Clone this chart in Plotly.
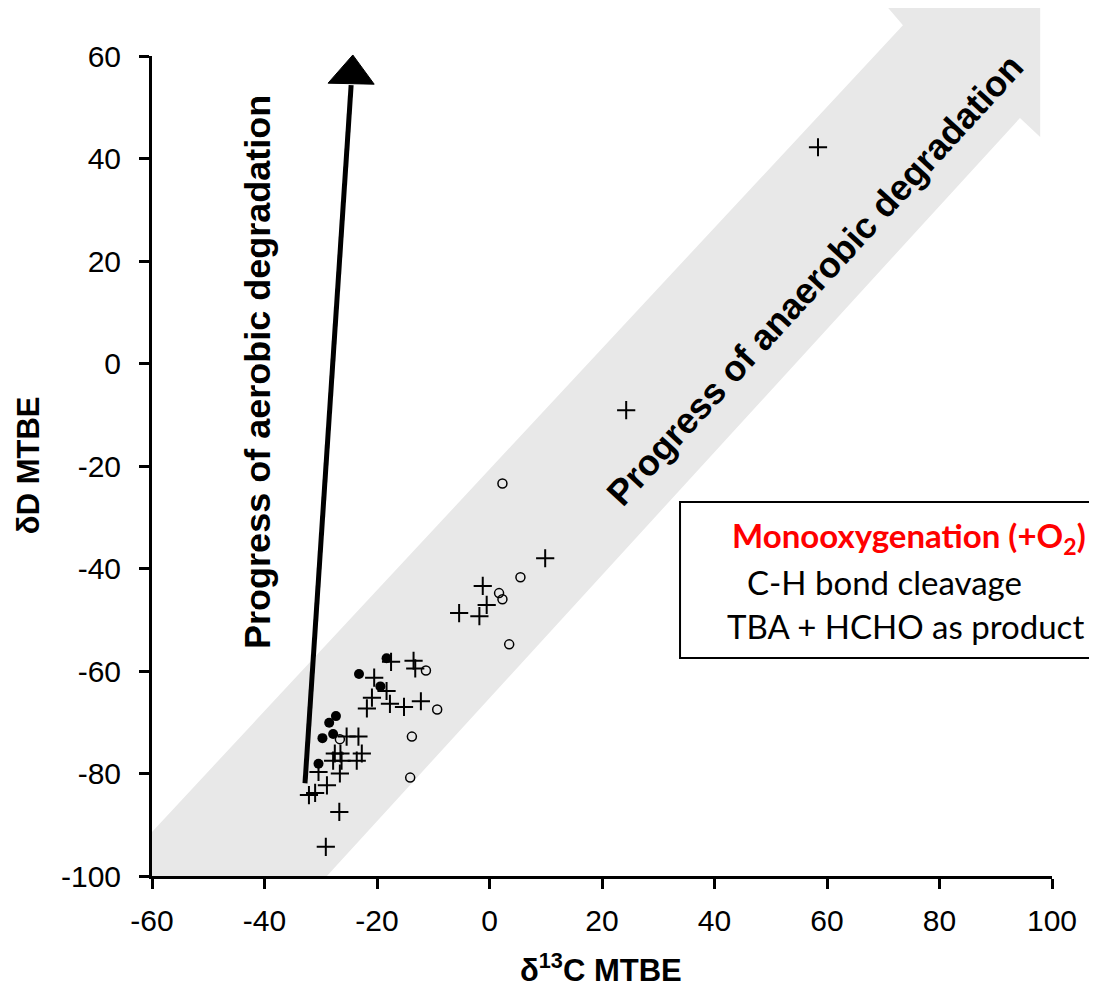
import plotly.graph_objects as go

# ---- data ----
filled_x = [-18.3, -23.2, -19.4, -27.3, -28.5, -29.7, -27.8, -30.4]
filled_y = [-57.5, -60.6, -63.0, -68.8, -70.1, -73.1, -72.3, -78.1]

open_x = [2.3, 5.5, 1.7, 2.3, 3.5, -11.3, -9.3, -13.8, -14.1, -26.6]
open_y = [-23.4, -41.7, -44.8, -46.0, -54.8, -59.9, -67.5, -72.8, -80.8, -73.3]

plus_x = [58.4, 24.3, 9.9, -1.2, -0.5, -5.4, -1.8, -17.5, -13.5, -13.2,
          -20.5, -18.3, -20.9, -21.8, -17.7, -15.2, -12.2, -25.4, -23.3, -27.5,
          -26.5, -27.8, -26.3, -22.7, -23.6, -30.4, -26.6, -28.9, -32.1, -31.0,
          -26.7, -29.1]
plus_y = [42.2, -9.1, -38.0, -43.4, -47.1, -48.7, -49.3, -58.2, -58.0, -59.5,
          -61.3, -63.9, -65.2, -67.3, -66.4, -67.0, -65.9, -72.8, -72.8, -76.1,
          -76.1, -77.5, -77.5, -76.1, -77.5, -79.7, -80.0, -82.3, -84.2, -83.8,
          -87.5, -94.3]

x_ticks = [-60, -40, -20, 0, 20, 40, 60, 80, 100]
x_tick_labels = ["-60", "-40", "-20", "0", "20", "40", "60", "80", "100"]
y_ticks = [-100, -80, -60, -40, -20, 0, 20, 40, 60]
y_tick_labels = ["-100", "-80", "-60", "-40", "-20", "0", "20", "40", "60"]

# anaerobic band outline (data coordinates) and aerobic arrow
band_x = [-60, 73.5, 70.7, 97.9, 97.9, 94.3, -28.9, -60]
band_y = [-91.4, 66.0, 69.6, 69.6, 44.2, 47.9, -100, -100]
aero_line = [(-32.8, -81.9), (-24.6, 54.3)]
aero_head = [(-24.3, 60.2), (-28.7, 54.7), (-20.5, 54.5)]

XR = [-60, 100]
YR = [-100, 60]


def to_paper(x, y):
    return ((x - XR[0]) / (XR[1] - XR[0]), (y - YR[0]) / (YR[1] - YR[0]))


def path_from(points):
    pts = [to_paper(x, y) for x, y in points]
    return "M " + " L ".join(f"{px:.5f},{py:.5f}" for px, py in pts) + " Z"


FONT = "Liberation Sans, Arial, sans-serif"
BOXFONT = "Lato, sans-serif"

fig = go.Figure()

fig.add_trace(go.Scatter(
    x=plus_x, y=plus_y, mode="markers",
    marker=dict(symbol="cross-thin", size=13, line=dict(color="black", width=2)),
    showlegend=False))
fig.add_trace(go.Scatter(
    x=open_x, y=open_y, mode="markers",
    marker=dict(symbol="circle-open", size=9, color="black", line=dict(color="black", width=1.5)),
    showlegend=False))
fig.add_trace(go.Scatter(
    x=filled_x, y=filled_y, mode="markers",
    marker=dict(symbol="circle", size=10, color="black"),
    showlegend=False))

shapes = [
    dict(type="path", xref="paper", yref="paper", path=path_from(list(zip(band_x, band_y))),
         fillcolor="#e8e8e8", line=dict(width=0), layer="below"),
    dict(type="line", xref="x", yref="y",
         x0=aero_line[0][0], y0=aero_line[0][1], x1=aero_line[1][0], y1=aero_line[1][1],
         line=dict(color="black", width=5)),
    dict(type="path", xref="paper", yref="paper", path=path_from(aero_head),
         fillcolor="black", line=dict(color="black", width=1)),
    dict(type="rect", xref="paper", yref="paper",
         x0=0.5867, x1=1.0478, y0=0.2659, y1=0.4561,
         line=dict(color="black", width=2), fillcolor="white"),
]


def ann(text, x, y, size, family=FONT, color="black", bold=False, angle=0):
    return dict(text=text, xref="paper", yref="paper", x=x, y=y,
                xanchor="center", yanchor="middle", showarrow=False, textangle=angle,
                font=dict(family=family, size=size, color=color,
                          weight="bold" if bold else "normal"))


annotations = [
    ann("Progress of aerobic degradation", 0.118, 0.615, 36, bold=True, angle=-90),
    ann("Progress of anaerobic degradation", 0.737, 0.727, 36, bold=True, angle=-47.5),
    ann("δD MTBE", -0.1378, 0.501, 31, bold=True, angle=-90),
    ann("δ<sup>13</sup>C MTBE", 0.499, -0.112, 31, bold=True),
    ann("Monooxygenation (+O<sub>2</sub>)", 0.841, 0.4134, 33, family=BOXFONT,
        color="#ff0000", bold=True),
    ann("C-H bond cleavage", 0.8144, 0.3585, 33, family=BOXFONT),
    ann("TBA + HCHO as product", 0.8367, 0.3049, 33, family=BOXFONT),
]

axis_common = dict(showline=True, linewidth=3, linecolor="black", ticks="outside",
                   ticklen=10, tickwidth=3, tickcolor="black", showgrid=False,
                   zeroline=False, mirror=False,
                   tickfont=dict(family=FONT, size=30, color="black"))

fig.update_layout(
    width=1097, height=994,
    margin=dict(l=144, r=53, t=48, b=126),
    paper_bgcolor="white", plot_bgcolor="white",
    xaxis=dict(range=XR, tickvals=x_ticks, ticktext=x_tick_labels,
               ticklabelstandoff=6, **axis_common),
    yaxis=dict(range=YR, tickvals=y_ticks, ticktext=y_tick_labels,
               ticklabelstandoff=12, **axis_common),
    shapes=shapes, annotations=annotations,
    showlegend=False,
)

fig.write_html("out.html")
